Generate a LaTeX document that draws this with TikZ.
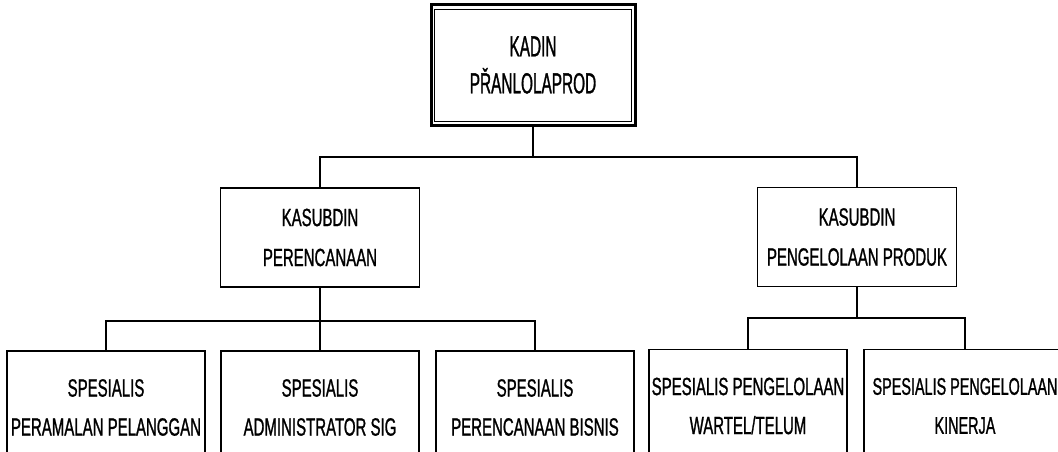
\documentclass[tikz,border=0pt]{standalone}
\usepackage{fontspec}
\setmainfont[FakeStretch=0.6,FakeBold=1]{Liberation Sans}
\newfontfamily\topfont[FakeStretch=0.53,FakeBold=1]{Liberation Sans}
\begin{document}
\begin{tikzpicture}[x=1pt,y=-1pt,
  box/.style={draw, line width=1.8pt, inner sep=0pt, align=center},
  midbox/.style={box, minimum width=199pt, minimum height=99pt, font=\fontsize{25}{40}\selectfont},
  lowbox/.style={box, minimum width=198pt, minimum height=113pt, font=\fontsize{25}{39}\selectfont},
  conn/.style={line width=1.8pt}]
\clip (0,0) rectangle (1058,452);
\fill[white] (0,0) rectangle (1058,452);
% top
\node[box, line width=3pt, minimum width=204pt, minimum height=120pt, font=\topfont\fontsize{29}{37}\selectfont] (top) at (533,65) {KADIN\\PŘANLOLAPROD};
\draw[line width=1.5pt] ([shift={(5,6)}]top.north west) rectangle ([shift={(-5,-5)}]top.south east);
% middle
\node[midbox] (kl) at (320,237.5) {KASUBDIN\\PERENCANAAN};
\node[midbox] (kr) at (857,237) {KASUBDIN\\PENGELOLAAN PRODUK};
% bottom
\node[lowbox] (s1) at (106,407.5) {SPESIALIS\\PERAMALAN PELANGGAN};
\node[lowbox] (s2) at (320,407.5) {SPESIALIS\\ADMINISTRATOR SIG};
\node[lowbox] (s3) at (535,407.5) {SPESIALIS\\PERENCANAAN BISNIS};
\node[lowbox] (s4) at (748,406) {SPESIALIS PENGELOLAAN\\WARTEL/TELUM};
\node[lowbox, minimum width=202pt, font=\fontsize{24}{39}\selectfont] (s5) at (965,406) {SPESIALIS PENGELOLAAN\\KINERJA};
% connectors
\coordinate (b1) at (533,157);
\coordinate (b2) at (320,321);
\coordinate (b3) at (857,318);
\draw[conn] (top.south) -- (b1);
\draw[conn] (kl.north) |- (b1) -| (kr.north);
\draw[conn] (kl.south) -- (s2.north);
\draw[conn] (s1.north) |- (b2) -| (s3.north);
\draw[conn] (kr.south) -- (b3);
\draw[conn] (s4.north) |- (b3) -| (s5.north);
\end{tikzpicture}
\end{document}
